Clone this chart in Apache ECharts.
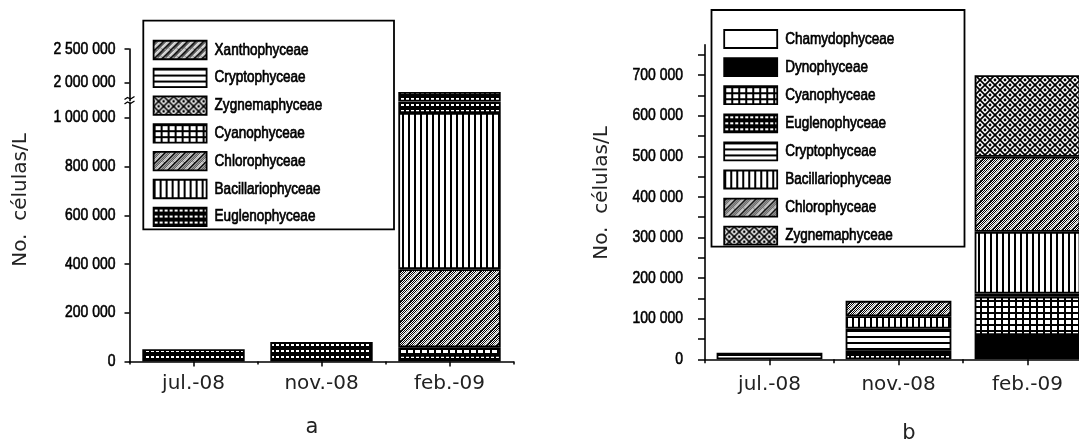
<!DOCTYPE html>
<html><head><meta charset="utf-8">
<script src="https://cdn.jsdelivr.net/npm/echarts@6/dist/echarts.min.js"></script>
<style>html,body{margin:0;padding:0;background:#fff}#c{width:1079px;height:439px}</style>
</head><body><div id="c"></div>
<script>
// ---------- data ----------
const categories = ['jul.-08', 'nov.-08', 'feb.-09'];

// panel a (stack order bottom -> top)
const aEuglenophyceae    = [50000, 80000, 27000];
const aCyanophyceae      = [null, null, 31000];
const aChlorophyceae     = [null, null, 321000];
const aBacillariophyceae = [null, null, 641000];
const aEuglenophyceaeTop = [null, null, 835000];
const aZygnemaphyceae    = [null, null, null];
const aCryptophyceae     = [null, null, null];
const aXanthophyceae     = [null, null, null];
const aLowTicks  = [0, 200000, 400000, 600000, 800000, 1000000];
const aHighTicks = [2000000, 2500000];
const aLegend = ['Xanthophyceae', 'Cryptophyceae', 'Zygnemaphyceae', 'Cyanophyceae', 'Chlorophyceae', 'Bacillariophyceae', 'Euglenophyceae'];

// panel b (stack order bottom -> top)
const bDynophyceae       = [null, null, 60000];
const bEuglenophyceae    = [null, 21000, null];
const bCyanophyceae      = [null, null, 94000];
const bCryptophyceae     = [16000, 55000, 8000];
const bBacillariophyceae = [null, 30000, 152000];
const bChlorophyceae     = [null, 38000, 185000];
const bZygnemaphyceae    = [null, null, 201000];
const bChamydophyceae    = [null, null, null];
const bTicks      = [0, 100000, 200000, 300000, 400000, 500000, 600000, 700000];
const bMinorTicks = [0, 50000, 100000, 150000, 200000, 250000, 300000, 350000, 400000, 450000, 500000, 550000, 600000, 650000, 700000, 750000];
const bLegend = ['Chamydophyceae', 'Dynophyceae', 'Cyanophyceae', 'Euglenophyceae', 'Cryptophyceae', 'Bacillariophyceae', 'Chlorophyceae', 'Zygnemaphyceae'];

// ---------- narrow-font rendering (Arial Narrow look: Liberation Sans squeezed horizontally) ----------
(function () {
  const proto = CanvasRenderingContext2D.prototype;
  const SX = 0.82;
  const origFill = proto.fillText, origStroke = proto.strokeText, origMeasure = proto.measureText;
  const isNarrow = (ctx) => ctx.font.indexOf('NarrowMark') >= 0;
  proto.fillText = function (t, x, y, mw) {
    if (!isNarrow(this)) return mw === undefined ? origFill.call(this, t, x, y) : origFill.call(this, t, x, y, mw);
    this.save(); this.translate(x, y); this.scale(SX, 1); origFill.call(this, t, 0, 0); this.restore();
  };
  proto.strokeText = function (t, x, y, mw) {
    if (!isNarrow(this)) return mw === undefined ? origStroke.call(this, t, x, y) : origStroke.call(this, t, x, y, mw);
    this.save(); this.translate(x, y); this.scale(SX, 1); origStroke.call(this, t, 0, 0); this.restore();
  };
  proto.measureText = function (t) {
    const m = origMeasure.call(this, t);
    if (!isNarrow(this)) return m;
    return {
      width: m.width * SX,
      actualBoundingBoxAscent: m.actualBoundingBoxAscent, actualBoundingBoxDescent: m.actualBoundingBoxDescent,
      actualBoundingBoxLeft: m.actualBoundingBoxLeft * SX, actualBoundingBoxRight: m.actualBoundingBoxRight * SX,
      fontBoundingBoxAscent: m.fontBoundingBoxAscent, fontBoundingBoxDescent: m.fontBoundingBoxDescent
    };
  };
})();
const NARROW = "NarrowMark, 'Liberation Sans', Arial, sans-serif";

// ---------- patterns ----------
function pat(w, h, draw) {
  const c = document.createElement('canvas');
  c.width = w; c.height = h;
  const g = c.getContext('2d');
  g.fillStyle = '#fff'; g.fillRect(0, 0, w, h);
  draw(g, w, h);
  return { image: c, repeat: 'repeat' };
}
function checker(g, w, h) {
  g.fillStyle = '#000';
  for (let y = 0; y < h; y++) for (let x = 0; x < w; x++) if ((x + y) % 2 === 0) g.fillRect(x, y, 1, 1);
}
function diag(g, s, color, width, off) {
  g.strokeStyle = color; g.lineWidth = width;
  for (let k = -s; k <= s; k += s) {
    g.beginPath(); g.moveTo(k + off, s); g.lineTo(k + off + s, 0); g.stroke();
  }
}
const P = {
  white: '#fff',
  black: '#000',
  crypto: pat(4, 6, (g) => { g.fillStyle = '#000'; g.fillRect(0, 0, 4, 2); }),
  bacill: pat(6, 4, (g) => { g.fillStyle = '#000'; g.fillRect(0, 0, 2, 4); }),
  cyano: pat(7, 6, (g) => { g.fillStyle = '#000'; g.fillRect(0, 0, 2, 6); g.fillRect(0, 0, 7, 2); }),
  eugleno: pat(5, 6, (g) => { g.fillStyle = '#000'; g.fillRect(0, 0, 5, 6); g.fillStyle = '#fff'; g.fillRect(1, 2, 3, 2); }),
  chloro: pat(10, 10, (g, w, h) => { checker(g, w, h); diag(g, 10, '#000', 1.6, 1.7); diag(g, 10, '#fff', 1.5, 0); }),
  xantho: pat(8, 8, (g, w, h) => { checker(g, w, h); diag(g, 8, '#000', 2.4, 2.2); diag(g, 8, '#fff', 1.6, 0); }),
  zygnema: pat(10, 10, (g) => {
    g.strokeStyle = '#000'; g.lineWidth = 1.7;
    g.beginPath(); g.moveTo(0, 0); g.lineTo(10, 10); g.moveTo(10, 0); g.lineTo(0, 10); g.stroke();
    g.fillStyle = '#000';
    [[5, 0], [0, 5], [10, 5], [5, 10]].forEach(([x, y]) => { g.beginPath(); g.arc(x, y, 1.4, 0, Math.PI * 2); g.fill(); });
  })
};

const fmt = (v) => String(v).replace(/\B(?=(\d{3})+(?!\d))/g, ' ');

function bar(name, data, fill, xi, yi, stack, width) {
  return {
    type: 'bar', name, data, stack, xAxisIndex: xi, yAxisIndex: yi, barWidth: width,
    itemStyle: { color: fill, borderColor: '#000', borderWidth: 1.8 },
    emphasis: { disabled: true }, silent: true, clip: true
  };
}
function panelA(xi, yi, stack) {
  return [
    bar('Euglenophyceae', aEuglenophyceae, P.eugleno, xi, yi, stack, '80%'),
    bar('Cyanophyceae', aCyanophyceae, P.cyano, xi, yi, stack, '80%'),
    bar('Chlorophyceae', aChlorophyceae, P.chloro, xi, yi, stack, '80%'),
    bar('Bacillariophyceae', aBacillariophyceae, P.bacill, xi, yi, stack, '80%'),
    bar('Euglenophyceae', aEuglenophyceaeTop, P.eugleno, xi, yi, stack, '80%'),
    bar('Zygnemaphyceae', aZygnemaphyceae, P.zygnema, xi, yi, stack, '80%'),
    bar('Cryptophyceae', aCryptophyceae, P.crypto, xi, yi, stack, '80%'),
    bar('Xanthophyceae', aXanthophyceae, P.xantho, xi, yi, stack, '80%')
  ];
}
const seriesB = [
  bar('Dynophyceae', bDynophyceae, P.black, 3, 2, 'b', '82%'),
  bar('Euglenophyceae', bEuglenophyceae, P.eugleno, 3, 2, 'b', '82%'),
  bar('Cyanophyceae', bCyanophyceae, P.cyano, 3, 2, 'b', '82%'),
  bar('Cryptophyceae', bCryptophyceae, P.crypto, 3, 2, 'b', '82%'),
  bar('Bacillariophyceae', bBacillariophyceae, P.bacill, 3, 2, 'b', '82%'),
  bar('Chlorophyceae', bChlorophyceae, P.chloro, 3, 2, 'b', '82%'),
  bar('Zygnemaphyceae', bZygnemaphyceae, P.zygnema, 3, 2, 'b', '82%'),
  bar('Chamydophyceae', bChamydophyceae, P.white, 3, 2, 'b', '82%')
];

const axisLine = { show: true, lineStyle: { color: '#000', width: 1.6 } };
const gridBase = { containLabel: false, outerBoundsMode: 'none' };
function catAxis(grid, labels, tickLen, align, margin) {
  return {
    type: 'category', gridIndex: grid, data: categories, position: 'bottom',
    axisLine: labels ? axisLine : { show: false },
    axisTick: { show: tickLen > 0, alignWithLabel: align, length: tickLen, lineStyle: { color: '#000', width: 1.5 } },
    axisLabel: { show: labels, margin: margin, fontFamily: 'DejaVu Sans', fontSize: 20, color: '#222' },
    splitLine: { show: false }
  };
}
const legendBase = {
  orient: 'vertical', icon: 'rect', selectedMode: false,
  itemStyle: { borderColor: '#000', borderWidth: 1.8 },
  textStyle: { fontFamily: NARROW, fontSize: 16.5, color: '#000', textBorderColor: '#000', textBorderWidth: 0.7, lineHeight: 18, padding: [3, 0, 0, 3] },
  padding: 0
};
const yLabel = { formatter: fmt, fontFamily: NARROW, fontSize: 17, color: '#000', textBorderColor: '#000', textBorderWidth: 0.6 };

const option = {
  animation: false,
  backgroundColor: '#fff',
  grid: [
    Object.assign({ left: 129.5, top: 102.7, width: 384, height: 258.8 }, gridBase),
    Object.assign({ left: 129.5, top: 49, width: 384, height: 51.7 }, gridBase),
    Object.assign({ left: 705, top: 44.7, width: 387, height: 314.6 }, gridBase)
  ],
  xAxis: [
    catAxis(0, true, 5, true, 12),
    catAxis(0, false, 3, false, 0),
    Object.assign(catAxis(1, false, 0, false, 0), { show: false }),
    catAxis(2, true, 6, true, 15),
    catAxis(2, false, 4, false, 0)
  ],
  yAxis: [
    {
      type: 'value', gridIndex: 0, min: 0, max: 1062000,
      axisLine, splitLine: { show: false },
      axisTick: { show: true, customValues: aLowTicks, length: 5, lineStyle: { color: '#000', width: 1.5 } },
      axisLabel: Object.assign({ customValues: aLowTicks, margin: 14 }, yLabel)
    },
    {
      type: 'value', gridIndex: 1, min: 1724000, max: 2500000,
      axisLine, splitLine: { show: false },
      axisTick: { show: true, customValues: aHighTicks, length: 5, lineStyle: { color: '#000', width: 1.5 } },
      axisLabel: Object.assign({ customValues: aHighTicks, margin: 14 }, yLabel)
    },
    {
      type: 'value', gridIndex: 2, min: 0, max: 775000,
      axisLine, splitLine: { show: false },
      axisTick: { show: true, customValues: bMinorTicks, length: 7, lineStyle: { color: '#000', width: 1.5 } },
      axisLabel: Object.assign({ customValues: bTicks, margin: 22 }, yLabel)
    }
  ],
  legend: [
    Object.assign({ left: 152.7, top: 39.5, itemWidth: 53, itemHeight: 18.5, itemGap: 6.8, data: aLegend }, legendBase),
    Object.assign({ left: 723.3, top: 28.5, itemWidth: 53, itemHeight: 18, itemGap: 7.1, data: bLegend }, legendBase)
  ],
  series: [].concat(panelA(0, 0, 'a'), panelA(2, 1, 'a2'), seriesB),
  graphic: [
    { type: 'rect', silent: true, shape: { x: 143.3, y: 20.7, width: 250.7, height: 208.6 }, style: { fill: 'none', stroke: '#000', lineWidth: 1.8 } },
    { type: 'rect', silent: true, shape: { x: 711.5, y: 10, width: 253, height: 236.7 }, style: { fill: 'none', stroke: '#000', lineWidth: 1.8 } },
    { type: 'text', silent: true, x: 21, y: 200, rotation: Math.PI / 2, style: { text: 'No.  células/L', fontFamily: 'DejaVu Sans', fontSize: 20, fill: '#222', align: 'center', verticalAlign: 'middle' } },
    { type: 'text', silent: true, x: 602, y: 193, rotation: Math.PI / 2, style: { text: 'No.  células/L', fontFamily: 'DejaVu Sans', fontSize: 20, fill: '#222', align: 'center', verticalAlign: 'middle' } },
    { type: 'text', silent: true, x: 312, y: 428, style: { text: 'a', fontFamily: 'DejaVu Sans', fontSize: 21, fill: '#222', align: 'center', verticalAlign: 'middle' } },
    { type: 'text', silent: true, x: 909, y: 434, style: { text: 'b', fontFamily: 'DejaVu Sans', fontSize: 21, fill: '#222', align: 'center', verticalAlign: 'middle' } },
    { type: 'polyline', silent: true, shape: { points: [[124.5, 99.5], [127.5, 97.5], [130.5, 99], [134.5, 96.5]] }, style: { stroke: '#000', lineWidth: 1.3, fill: 'none' } },
    { type: 'polyline', silent: true, shape: { points: [[124.5, 104], [127.5, 102], [130.5, 103.5], [134.5, 101]] }, style: { stroke: '#000', lineWidth: 1.3, fill: 'none' } }
  ]
};
const chart = echarts.init(document.getElementById('c'), null, { renderer: 'canvas' });
chart.setOption(option);
</script>
</body></html>
